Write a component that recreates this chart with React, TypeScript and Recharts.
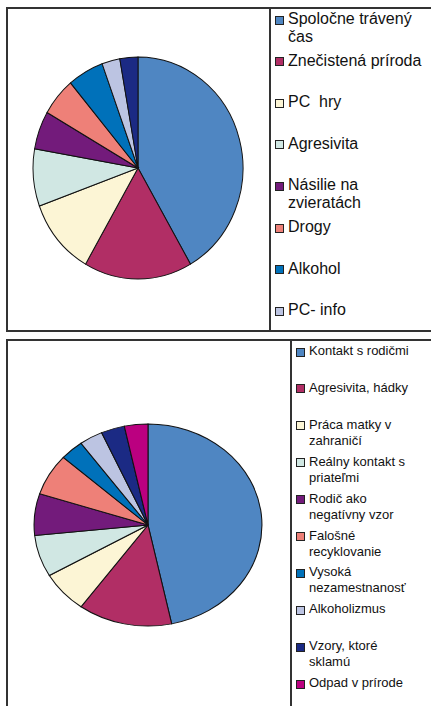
import { PieChart, Pie, Cell } from "recharts"

// Top chart: free time / problems (counts)
const topNames = [
  "Spoločne trávený čas",
  "Znečistená príroda",
  "PC  hry",
  "Agresivita",
  "Násilie na zvieratách",
  "Drogy",
  "Alkohol",
  "PC- info",
  "Iné",
]
const topValues = [15, 6, 4, 3, 2, 2, 2, 1, 1]
const topColors = ["#4f86c2", "#b12e65", "#fcf5d5", "#d0e7e3", "#731b7b", "#ee8078", "#0071ba", "#bcc4e2", "#1b2a84"]
// the last category has no visible legend entry in the reference
const topLegendCount = 8

// Bottom chart
const bottomNames = [
  "Kontakt s rodičmi",
  "Agresivita, hádky",
  "Práca matky v zahraničí",
  "Reálny kontakt s priateľmi",
  "Rodič ako negatívny vzor",
  "Falošné recyklovanie",
  "Vysoká nezamestnanosť",
  "Alkoholizmus",
  "Vzory, ktoré sklamú",
  "Odpad v prírode",
]
const bottomValues = [14, 4, 2, 2, 2, 2, 1, 1, 1, 1]
const bottomColors = [
  "#4f86c2", "#b12e65", "#fcf5d5", "#d0e7e3", "#731b7b",
  "#ee8078", "#0071ba", "#bcc4e2", "#1b2a84", "#bb0080",
]

const font = '"Liberation Sans", Arial, sans-serif'
const border = "#333"

type PieBlockProps = {
  names: string[]
  values: number[]
  colors: string[]
  left: number
  top: number
  radius: number
  sx: number
  sy: number
}

function PieBlock({ names, values, colors, left, top, radius, sx, sy }: PieBlockProps) {
  const data = names.map((name, i) => ({ name, value: values[i] }))
  const size = 240
  return (
    <div
      style={{
        position: "absolute",
        left,
        top,
        width: size,
        height: size,
        transform: `scale(${sx}, ${sy})`,
        transformOrigin: "50% 50%",
      }}
    >
      <PieChart width={size} height={size} margin={{ top: 0, right: 0, bottom: 0, left: 0 }}>
        <Pie
          data={data}
          dataKey="value"
          nameKey="name"
          cx={size / 2}
          cy={size / 2}
          outerRadius={radius}
          startAngle={90}
          endAngle={-270}
          stroke="#111"
          strokeWidth={1}
          isAnimationActive={false}
          label={false}
          labelLine={false}
        >
          {data.map((d, i) => (
            <Cell key={d.name} fill={colors[i]} />
          ))}
        </Pie>
      </PieChart>
    </div>
  )
}

type LegendProps = {
  names: string[]
  colors: string[]
  count: number
  left: number
  top: number
  step: number
  fontSize: number
  lineHeight: number
  textWidth: number
}

function BoxLegend({ names, colors, count, left, top, step, fontSize, lineHeight, textWidth }: LegendProps) {
  return (
    <>
      {names.slice(0, count).map((name, i) => (
        <div
          key={name}
          style={{
            position: "absolute",
            left,
            top: top + i * step,
            display: "flex",
            alignItems: "flex-start",
            fontFamily: font,
            fontSize,
            lineHeight: `${lineHeight}px`,
            color: "#111",
          }}
        >
          <div
            style={{
              width: 7,
              height: 7,
              marginTop: (lineHeight - 9) / 2 + 1,
              marginRight: 4,
              background: colors[i],
              border: "1px solid #222",
              flexShrink: 0,
            }}
          />
          <div style={{ width: textWidth, whiteSpace: "pre-wrap" }}>{name}</div>
        </div>
      ))}
    </>
  )
}

export default function App() {
  return (
    <div
      style={{
        position: "absolute",
        left: 0,
        top: 0,
        width: 431,
        height: 706,
        overflow: "hidden",
        background: "#fff",
      }}
    >
      {/* top box */}
      <div
        style={{
          position: "absolute",
          left: 6,
          top: 7,
          width: 460,
          height: 325,
          border: `2px solid ${border}`,
          boxSizing: "border-box",
        }}
      />
      <div style={{ position: "absolute", left: 269, top: 7, width: 2, height: 325, background: border }} />
      <PieBlock
        names={topNames}
        values={topValues}
        colors={topColors}
        left={138 - 120}
        top={168 - 120}
        radius={108}
        sx={0.972}
        sy={1.028}
      />
      <BoxLegend
        names={topNames}
        colors={topColors}
        count={topLegendCount}
        left={275}
        top={10}
        step={41.6}
        fontSize={16}
        lineHeight={18}
        textWidth={140}
      />

      {/* bottom box */}
      <div
        style={{
          position: "absolute",
          left: 6,
          top: 339,
          width: 460,
          height: 420,
          border: `2px solid ${border}`,
          boxSizing: "border-box",
        }}
      />
      <div style={{ position: "absolute", left: 290, top: 339, width: 2, height: 420, background: border }} />
      <PieBlock
        names={bottomNames}
        values={bottomValues}
        colors={bottomColors}
        left={148 - 120}
        top={525 - 120}
        radius={107.5}
        sx={1.06}
        sy={0.94}
      />
      <BoxLegend
        names={bottomNames}
        colors={bottomColors}
        count={bottomNames.length}
        left={296}
        top={343}
        step={36.9}
        fontSize={13}
        lineHeight={16}
        textWidth={110}
      />
    </div>
  )
}
